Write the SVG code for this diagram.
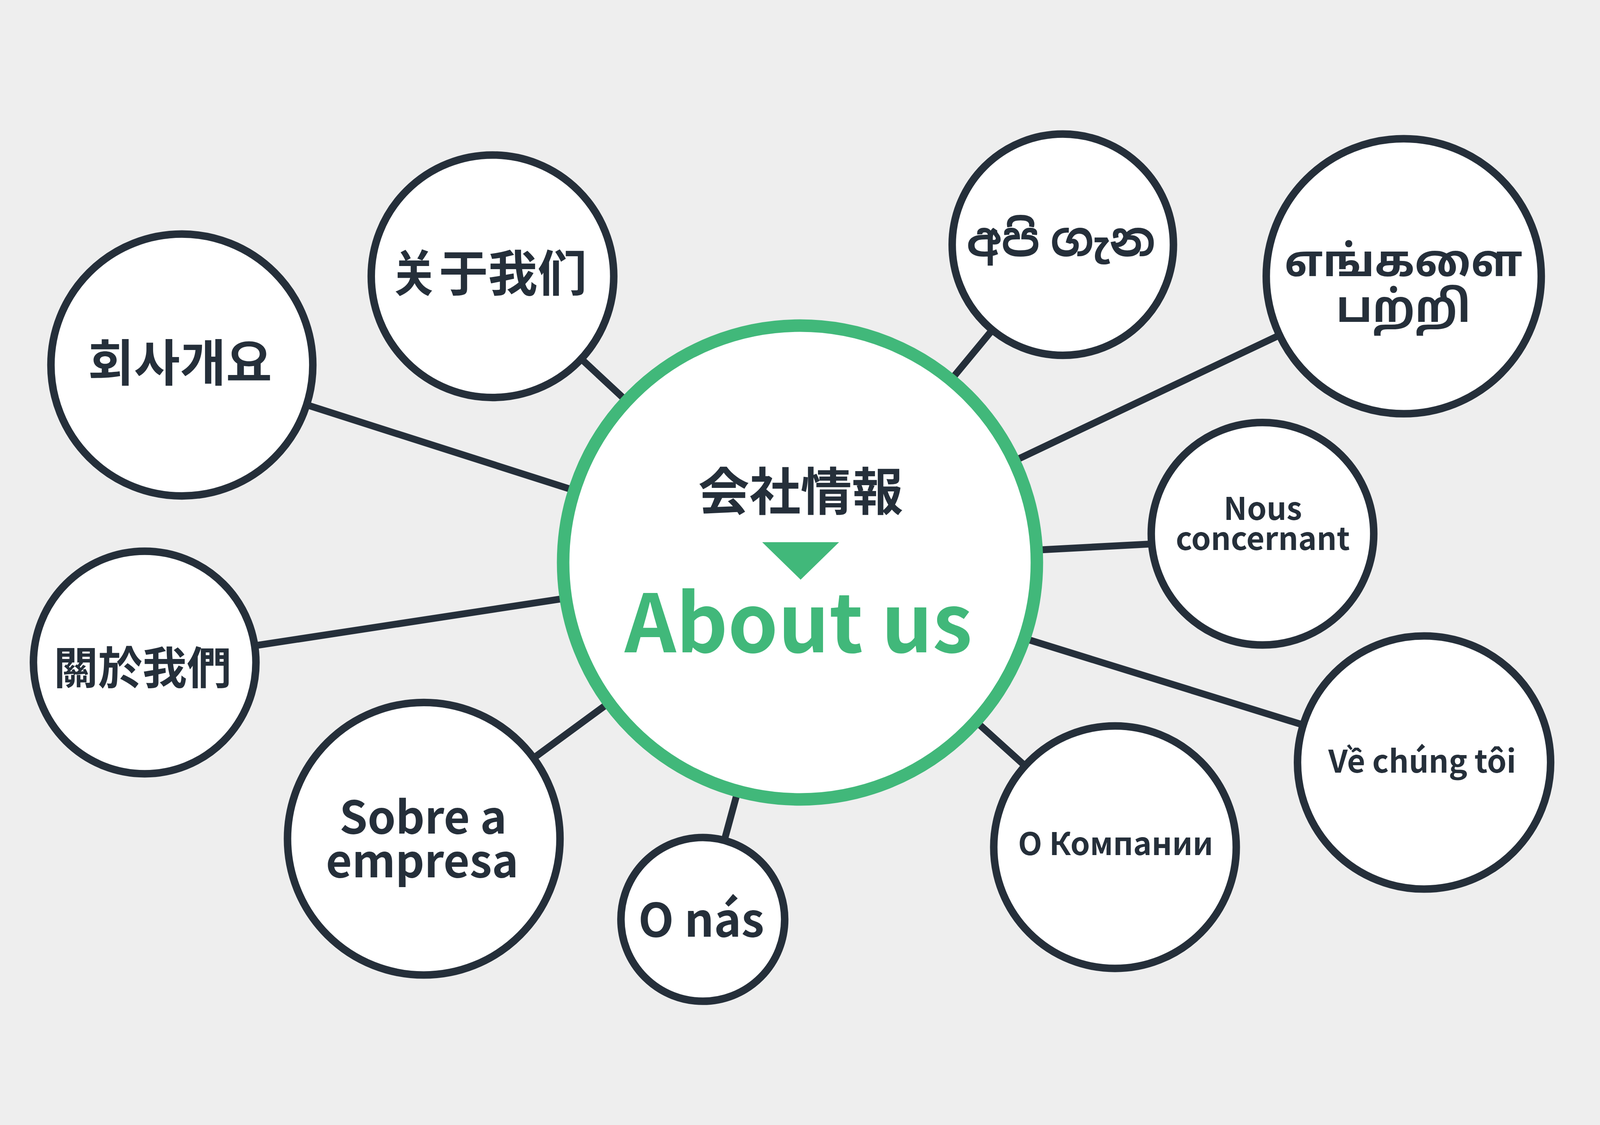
<svg xmlns="http://www.w3.org/2000/svg" width="5120" height="2880" viewBox="0 0 5120 2880" style="max-width:100vw;max-height:100vh">
<style>
.bg{fill:#eeeeee}
.node{fill:#ffffff;stroke:#252f3a;stroke-width:24}
.hub{fill:#ffffff;stroke:#41b87a;stroke-width:40}
.conn{stroke:#252f3a;stroke-width:22;fill:none}
.t{font-family:"Noto Sans CJK JP","Noto Sans Sinhala","Noto Sans Tamil","Noto Sans",sans-serif;font-weight:700;fill:#252f3a;text-anchor:middle}
.g{fill:#41b87a}
</style>
<rect class="bg" x="-2000" y="-2000" width="9120" height="6880"/>
<g id="connectors">
<line class="conn" x1="2560" y1="1440" x2="582" y2="808"/>
<line class="conn" x1="2560" y1="1440" x2="1576" y2="524"/>
<line class="conn" x1="2560" y1="1440" x2="3401" y2="423"/>
<line class="conn" x1="2560" y1="1440" x2="4492" y2="524"/>
<line class="conn" x1="2560" y1="1440" x2="4040" y2="1362"/>
<line class="conn" x1="2560" y1="1460" x2="4557" y2="2080"/>
<line class="conn" x1="2560" y1="1440" x2="3568" y2="2351"/>
<line class="conn" x1="2560" y1="1440" x2="2249" y2="2582"/>
<line class="conn" x1="2560" y1="1440" x2="1356" y2="2324"/>
<line class="conn" x1="2560" y1="1440" x2="463" y2="1760"/>
</g>
<g id="node-ko">
<circle class="node" cx="582" cy="808" r="419"/>
<text class="t" x="576" y="860" font-size="160">회사개요</text>
</g>
<g id="node-zh-cn">
<circle class="node" cx="1576" cy="524" r="388"/>
<text class="t" x="1562" y="572" font-size="158">关于我们</text>
</g>
<g id="node-si">
<circle class="node" cx="3401" cy="423" r="354"/>
<text class="t" x="3395" y="460" font-size="150">අපි ගැන</text>
</g>
<g id="node-ta">
<circle class="node" cx="4492" cy="524" r="440"/>
<text class="t" x="4491" y="524" font-size="140">எங்களை</text>
<text class="t" x="4491" y="670" font-size="140">பற்றி</text>
</g>
<g id="node-fr">
<circle class="node" cx="4040" cy="1348" r="356"/>
<text class="t" x="4041" y="1304" font-size="100">Nous</text>
<text class="t" x="4041" y="1400" font-size="100">concernant</text>
</g>
<g id="node-vi">
<circle class="node" cx="4557" cy="2080" r="405"/>
<text class="t" x="4551" y="2112" font-size="100">Về chúng tôi</text>
</g>
<g id="node-ru">
<circle class="node" cx="3568" cy="2351" r="388"/>
<text class="t" x="3570" y="2376" font-size="100">О Компании</text>
</g>
<g id="node-cs">
<circle class="node" cx="2249" cy="2582" r="262"/>
<text class="t" x="2244" y="2637" font-size="148">O nás</text>
</g>
<g id="node-pt">
<circle class="node" cx="1356" cy="2324" r="436"/>
<text class="t" x="1354" y="2308" font-size="144">Sobre a</text>
<text class="t" x="1351" y="2448" font-size="144">empresa</text>
</g>
<g id="node-zh-tw">
<circle class="node" cx="463" cy="1760" r="356"/>
<text class="t" x="456" y="1829" font-size="142">關於我們</text>
</g>
<g id="node-hub">
<circle class="hub" cx="2560" cy="1440" r="758"/>
<text class="t" x="2562" y="1273" font-size="164">会社情報</text>
<polygon class="g" points="2439,1375 2685,1375 2562,1495"/>
<text class="t g" x="2555" y="1728" font-size="257">About us</text>
</g>
</svg>
